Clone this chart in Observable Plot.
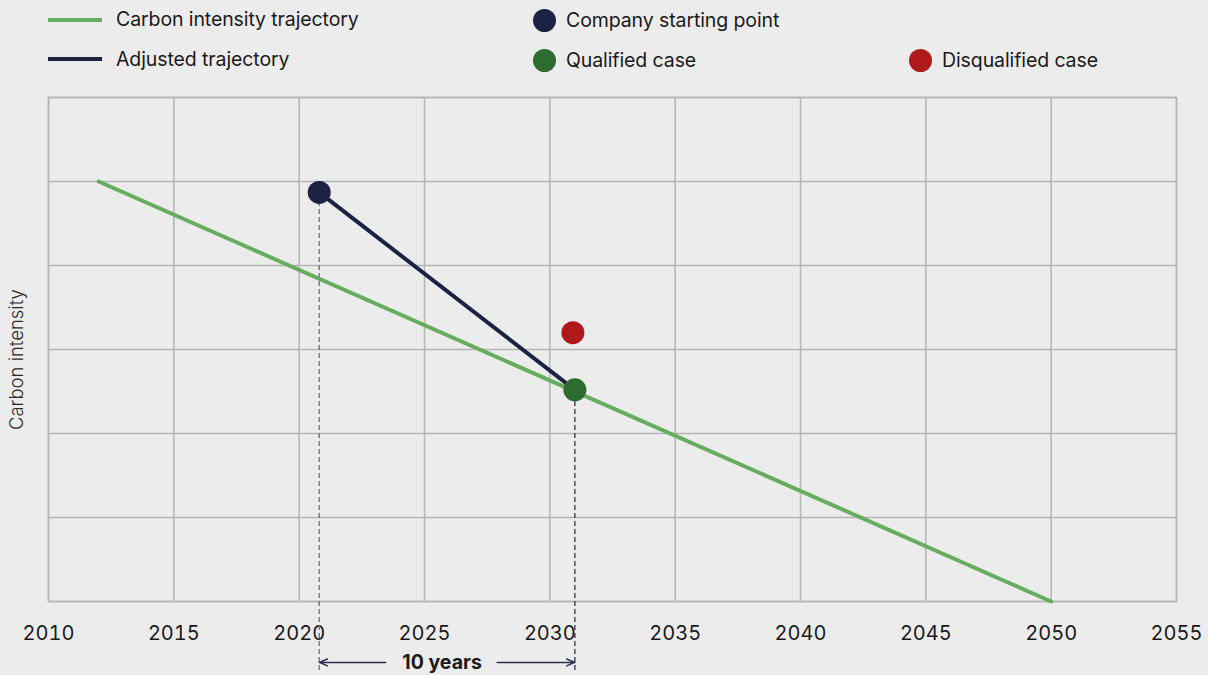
<!DOCTYPE html>
<html>
<head>
<meta charset="utf-8">
<script src="https://cdn.jsdelivr.net/npm/d3@7"></script>
<script src="https://cdn.jsdelivr.net/npm/@observablehq/plot@0.6"></script>
<style>
  html, body { margin: 0; padding: 0; background: #ececec; }
  body { width: 1208px; height: 675px; overflow: hidden; font-family: Inter, "Noto Sans", sans-serif; color: #1a1a1a; }
  #legend { position: relative; height: 85px; }
  .sw-line { position: absolute; width: 54px; height: 4px; }
  .sw-dot { position: absolute; width: 23px; height: 23px; border-radius: 50%; }
  .lbl { position: absolute; font-size: 19.5px; line-height: 24px; white-space: nowrap; letter-spacing: -0.1px; }
</style>
</head>
<body>
<div id="legend"></div>
<div id="chart"></div>
<script>
// ---- data ----
const xTicks = [2010, 2015, 2020, 2025, 2030, 2035, 2040, 2045, 2050, 2055];
const yGrid = [0, 1, 2, 3, 4, 5, 6];

const trajectoryYears = [2012, 2050];
const trajectoryValues = [5, 0];

const adjustedYears = [2020.8, 2031];
const adjustedValues = [4.87, 2.52];

const pointNames = ["Company starting point", "Qualified case", "Disqualified case"];
const pointYears = [2020.8, 2031, 2030.92];
const pointValues = [4.87, 2.52, 3.2];

const lineNames = ["Carbon intensity trajectory", "Adjusted trajectory"];
const yLabel = "Carbon intensity";
const spanLabel = "10 years";
const spanStart = 2020.8;
const spanEnd = 2031;

// ---- styles ----
const C = {
  green: "#67ad5f",
  navy: "#1c2244",
  qualified: "#2e6b2f",
  red: "#b0191b",
  grid: "#b4b4b4",
  bg: "#ececec"
};
const pointColors = [C.navy, C.qualified, C.red];

// ---- legend ----
const legend = document.getElementById("legend");
function add(cls, style, text) {
  const d = document.createElement("div");
  d.className = cls;
  Object.assign(d.style, style);
  if (text) d.textContent = text;
  legend.appendChild(d);
}
add("sw-line", {left: "48px", top: "18px", background: C.green});
add("lbl", {left: "116px", top: "7px"}, lineNames[0]);
add("sw-line", {left: "48px", top: "57px", background: C.navy});
add("lbl", {left: "116px", top: "47px"}, lineNames[1]);
add("sw-dot", {left: "533px", top: "8.5px", background: pointColors[0]});
add("lbl", {left: "566px", top: "8px"}, pointNames[0]);
add("sw-dot", {left: "533px", top: "48.5px", background: pointColors[1]});
add("lbl", {left: "566px", top: "48px"}, pointNames[1]);
add("sw-dot", {left: "909px", top: "48.5px", background: pointColors[2]});
add("lbl", {left: "942px", top: "48px"}, pointNames[2]);

// ---- tables ----
const trajectory = trajectoryYears.map((x, i) => ({x, y: trajectoryValues[i]}));
const adjusted = adjustedYears.map((x, i) => ({x, y: adjustedValues[i]}));
const points = pointNames.map((name, i) => ({name, x: pointYears[i], y: pointValues[i], color: pointColors[i]}));

const belowY = -0.82;   // how far the dashed guides extend below the axis (data units)
const arrowY = -0.725;

const chart = Plot.plot({
  width: 1208,
  height: 590,
  marginTop: 12,
  marginBottom: 74,
  marginLeft: 48,
  marginRight: 32,
  style: {background: C.bg, fontFamily: "Inter, 'Noto Sans', sans-serif", color: "#1a1a1a", overflow: "visible"},
  x: {domain: [2010, 2055]},
  y: {domain: [0, 6], axis: null},
  marks: [
    Plot.gridX(xTicks, {stroke: C.grid, strokeOpacity: 1, strokeWidth: 1.5}),
    Plot.gridY(yGrid, {stroke: C.grid, strokeOpacity: 1, strokeWidth: 1.5}),
    Plot.frame({stroke: C.grid, strokeWidth: 1.5}),
    Plot.axisX(xTicks, {tickSize: 0, tickPadding: 24, fontSize: 20, tickFormat: "d", label: null, fill: "#1a1a1a"}),
    Plot.text([yLabel], {frameAnchor: "left", y: [2.88], text: d => d, rotate: -90, textAnchor: "middle", dx: -31, fontSize: 18.5, fill: "#2a2a2a", fontWeight: 300}),
    // dashed guides
    Plot.ruleX([points[0]], {x: "x", y1: belowY, y2: "y", stroke: "#5c6282", strokeWidth: 1.2, strokeDasharray: "5,3"}),
    Plot.ruleX([points[1]], {x: "x", y1: belowY, y2: "y", stroke: C.navy, strokeWidth: 1.2, strokeDasharray: "5,3"}),
    // lines
    Plot.line(trajectory, {x: "x", y: "y", stroke: C.green, strokeWidth: 4}),
    Plot.line(adjusted, {x: "x", y: "y", stroke: C.navy, strokeWidth: 4}),
    // points
    Plot.dot(points, {x: "x", y: "y", r: 11.5, fill: "color"}),
    // span annotation
    Plot.arrow([{x1: 2023.45, x2: spanStart}, {x1: 2027.9, x2: spanEnd}], {
      x1: "x1", x2: "x2", y1: arrowY, y2: arrowY, stroke: "#2a3050", strokeWidth: 1.5, headLength: 9, headAngle: 45
    }),
    Plot.text([spanLabel], {x: [(spanStart + spanEnd) / 2 - 0.2], y: [arrowY], text: d => d, fontSize: 19.5, fontWeight: 700, fill: "#1a1a1a"})
  ]
});
document.getElementById("chart").appendChild(chart);
</script>
</body>
</html>
